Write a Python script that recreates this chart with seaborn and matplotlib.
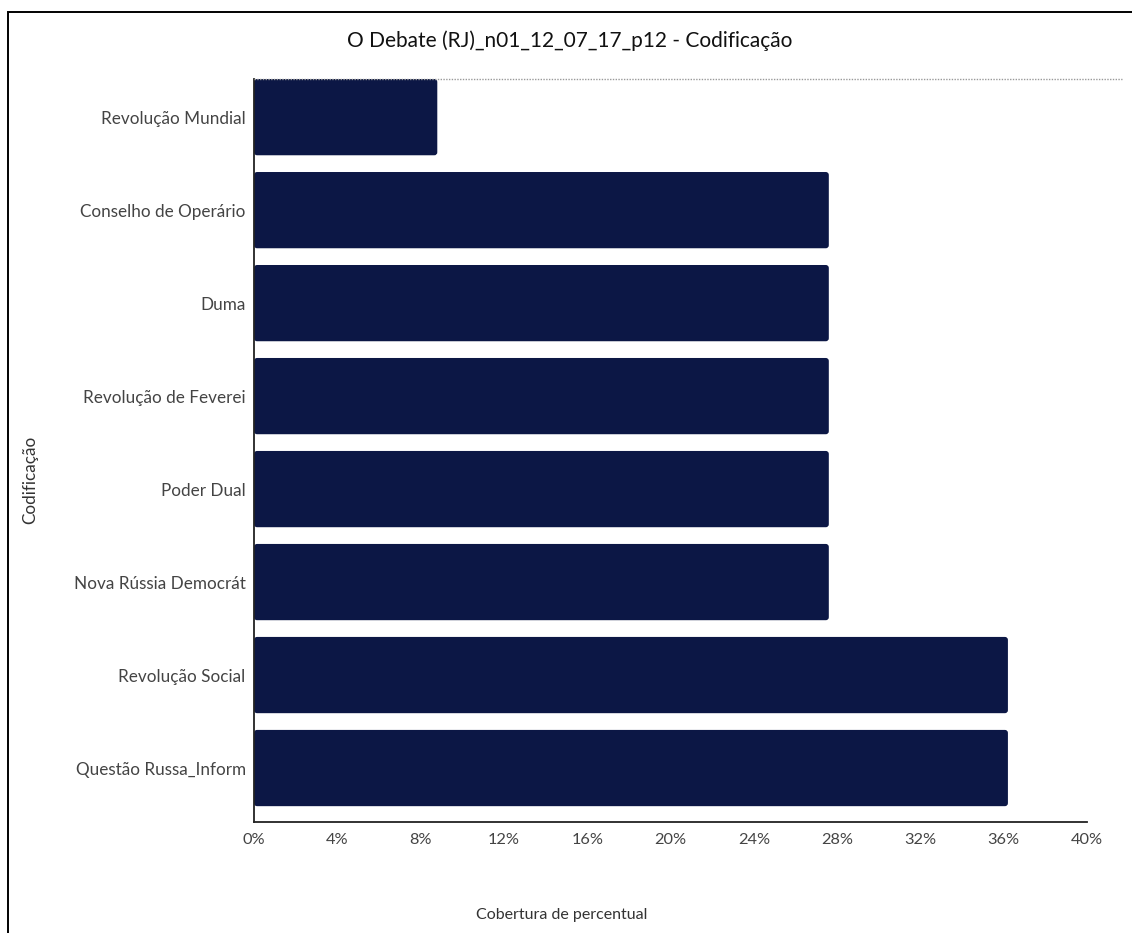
import matplotlib
matplotlib.use("Agg")
import matplotlib.pyplot as plt
import seaborn as sns
import pandas as pd
from matplotlib.patches import FancyBboxPatch, Rectangle
from matplotlib.lines import Line2D
from matplotlib.ticker import FuncFormatter

categorias = [
    "Revolução Mundial",
    "Conselho de Operário",
    "Duma",
    "Revolução de Feverei",
    "Poder Dual",
    "Nova Rússia Democrát",
    "Revolução Social",
    "Questão Russa_Inform",
]
cobertura = [8.8, 27.6, 27.6, 27.6, 27.6, 27.6, 36.2, 36.2]
x_ticks = [0, 4, 8, 12, 16, 20, 24, 28, 32, 36, 40]

titulo = "O Debate (RJ)_n01_12_07_17_p12 - Codificação"
rotulo_x = "Cobertura de percentual"
rotulo_y = "Codificação"

sns.set_theme(style="white")
plt.rcParams["font.family"] = ["Lato", "DejaVu Sans"]

cor_barra = "#0c1745"
cor_texto = "#333333"

df = pd.DataFrame({"cat": categorias, "val": cobertura})

fig = plt.figure(figsize=(11.32, 9.33), dpi=100)
ax = fig.add_axes([0.2244, 0.119, 0.7359, 0.7963])

sns.barplot(data=df, x="val", y="cat", orient="h", color=cor_barra,
            width=0.82, saturation=1, ax=ax)

# replace the square bars with slightly rounded ones
px_x = 833 / 40.0
px_y = 743 / 8.0
r = 3.0
for p in list(ax.patches):
    x0, y0 = p.get_x(), p.get_y()
    w, h = p.get_width(), p.get_height()
    fb = FancyBboxPatch((x0, y0), w, h,
                        boxstyle=f"round,pad=0,rounding_size={r / px_x}",
                        mutation_aspect=(px_x / px_y),
                        facecolor=cor_barra, edgecolor="none", zorder=2)
    p.remove()
    ax.add_patch(fb)

ax.set_xlim(0, 40)
ax.set_ylim(7.58, -0.41)
ax.set_xticks(x_ticks)
ax.xaxis.set_major_formatter(FuncFormatter(lambda v, _: f"{v:g}%"))
ax.tick_params(axis="y", length=0, labelsize=12.3, colors="#444444", pad=6)
ax.tick_params(axis="x", length=0, labelsize=11.8, colors="#444444", pad=8)

for s in ["top", "right"]:
    ax.spines[s].set_visible(False)
for s in ["left", "bottom"]:
    ax.spines[s].set_color("#222222")
    ax.spines[s].set_linewidth(1.3)

ax.set_xlabel("")
ax.set_ylabel("")
fig.text(562 / 1132, 1 - 915 / 933, rotulo_x, ha="center", va="center",
         fontsize=11.5, color=cor_texto)
fig.text(30 / 1132, 1 - 480 / 933, rotulo_y, ha="center", va="center",
         rotation=90, fontsize=12.3, color=cor_texto)
fig.text(570 / 1132, 1 - 41 / 933, titulo, ha="center", va="center",
         fontsize=15, color="#111111")

# dotted reference line across the top
fig.add_artist(Line2D([254 / 1132, 1122 / 1132], [1 - 79 / 933, 1 - 79 / 933],
                      transform=fig.transFigure, color="#999999",
                      linestyle=(0, (1, 1)), linewidth=1.0))

# outer frame
fig.add_artist(Rectangle((8 / 1132, -0.05), 1.2, 1 - 12 / 933 + 0.05,
                         transform=fig.transFigure, fill=False,
                         edgecolor="black", linewidth=1.4))

fig.savefig("out.png", dpi=100, facecolor="white")
